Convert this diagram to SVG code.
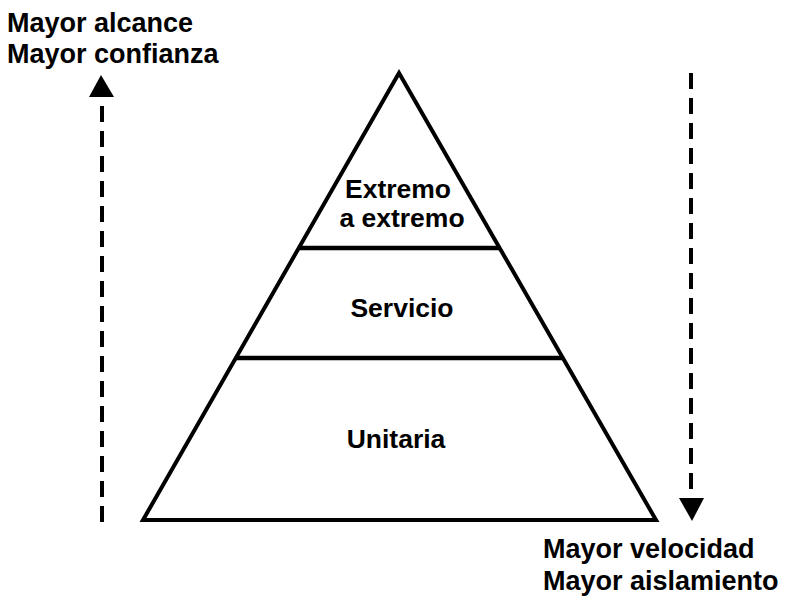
<svg xmlns="http://www.w3.org/2000/svg" width="787" height="612" viewBox="0 0 787 612">
<style>
text{font-family:"Liberation Sans",Arial,sans-serif;font-weight:bold;font-size:26.5px;fill:#000}
.c{text-anchor:middle}
.big{font-size:27px}
.tri{fill:none;stroke:#000;stroke-width:4;stroke-linejoin:miter}
.div{stroke:#000;stroke-width:4.5}
.dash{stroke:#000;stroke-width:4;stroke-dasharray:16 9;fill:none}
</style>
<rect width="787" height="612" fill="#fff"/>
<g id="pyramid">
<polygon class="tri" points="399,73 143,520 656,520"/>
</g>
<g id="layer-e2e">
<line class="div" x1="298" y1="248" x2="500" y2="248"/>
<text class="c" x="398" y="198">Extremo</text>
<text class="c" x="402" y="227">a extremo</text>
</g>
<g id="layer-servicio">
<line class="div" x1="236" y1="358" x2="563" y2="358"/>
<text class="c" x="402" y="317">Servicio</text>
</g>
<g id="layer-unitaria">
<text class="c" x="396" y="448">Unitaria</text>
</g>
<g id="connectors">
<line class="dash" x1="102" y1="522" x2="102" y2="97"/>
<polygon points="101,75 89,97 114,97" fill="#000"/>
<line class="dash" x1="691" y1="73" x2="691" y2="498"/>
<polygon points="679,498 704,498 692,521" fill="#000"/>
</g>
<g id="label-top">
<text class="big" x="7" y="32">Mayor alcance</text>
<text class="big" x="7" y="63">Mayor confianza</text>
</g>
<g id="label-bottom">
<text class="big" x="543" y="558">Mayor velocidad</text>
<text class="big" x="543" y="590">Mayor aislamiento</text>
</g>
</svg>
